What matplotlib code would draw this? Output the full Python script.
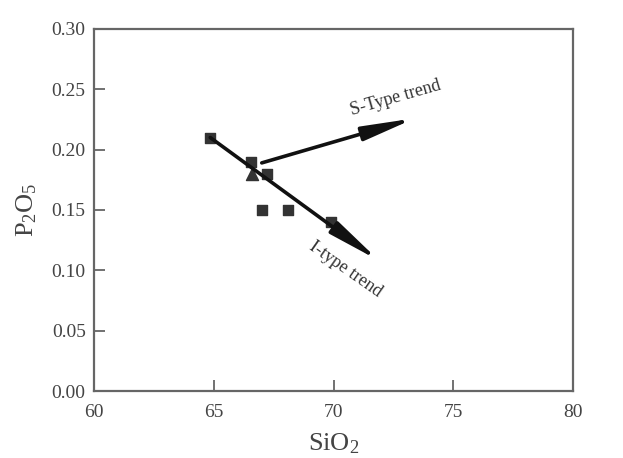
import matplotlib
matplotlib.use("Agg")
from matplotlib import pyplot as plt

# data
sio2 = [64.85, 66.55, 67.2, 67.0, 68.1, 69.9]
p2o5 = [0.21, 0.19, 0.18, 0.15, 0.15, 0.14]
tri_sio2 = [66.6]
tri_p2o5 = [0.18]

i_trend = [(64.85, 0.21), (71.9, 0.108)]
s_trend = [(67.0, 0.189), (73.4, 0.226)]

plt.rcParams["font.family"] = ["Liberation Serif", "DejaVu Serif"]
plt.rcParams["mathtext.default"] = "regular"
text_col = "#444444"
axis_col = "#666666"

fig = plt.figure(figsize=(6.23, 4.58), dpi=100)
ax = fig.add_axes([0.151, 0.146, 0.769, 0.791])

ax.scatter(sio2, p2o5, marker="s", s=62, c="#333333", zorder=3)
ax.scatter(tri_sio2, tri_p2o5, marker="^", s=75, c="#333333", zorder=3)

arrow = dict(arrowstyle="-|>,head_length=2.8,head_width=0.38", lw=2.6,
             color="#111111", shrinkA=0, shrinkB=0, mutation_scale=11)
ax.annotate("", xy=i_trend[1], xytext=i_trend[0], arrowprops=arrow, zorder=4)
ax.annotate("", xy=s_trend[1], xytext=s_trend[0], arrowprops=arrow, zorder=4)

ax.text(72.6, 0.243, "S-Type trend", rotation=16, ha="center", va="center",
        fontsize=13, color="#333333")
ax.text(70.5, 0.101, "I-type trend", rotation=-35, ha="center", va="center",
        fontsize=13, color="#333333")

ax.set_xlim(60, 80)
ax.set_ylim(0, 0.30)
ax.set_xticks([60, 65, 70, 75, 80])
ax.set_yticks([0.0, 0.05, 0.10, 0.15, 0.20, 0.25, 0.30])
ax.set_yticklabels([f"{v:.2f}" for v in ax.get_yticks()])
ax.tick_params(direction="in", length=8, width=1.3, color=axis_col,
               labelcolor=text_col, labelsize=14, pad=6)
ax.tick_params(axis="x", pad=9)
for sp in ax.spines.values():
    sp.set_color(axis_col)
    sp.set_linewidth(1.6)

ax.set_xlabel("SiO$_2$", fontsize=19, color=text_col, labelpad=8)
ax.set_ylabel("P$_2$O$_5$", fontsize=19, color=text_col, labelpad=9)

fig.savefig("out.png", dpi=100)
